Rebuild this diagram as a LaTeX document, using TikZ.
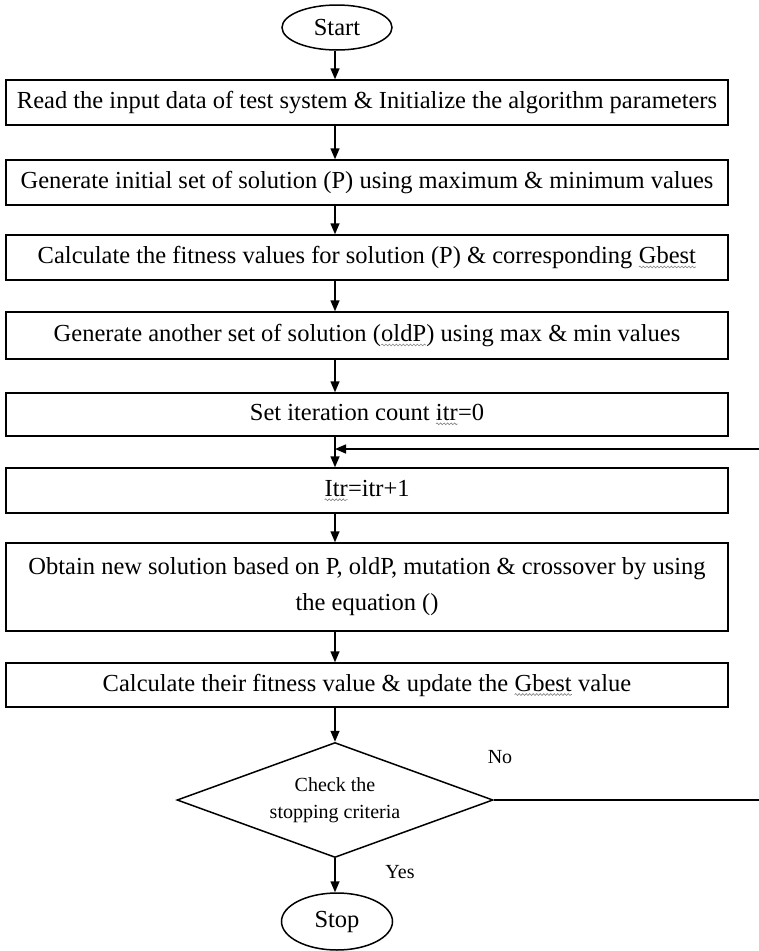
\documentclass[tikz,border=0pt]{standalone}
\usepackage{fontspec}
\setmainfont{Liberation Serif}
\usetikzlibrary{shapes.geometric,arrows.meta,decorations.pathmorphing}
\newcommand\sqw[1]{\tikz[baseline=(w.base)]{\node[rectangle,draw=none,fill=none,minimum width=0pt,minimum height=0pt,inner sep=0pt,outer sep=0pt] (w) {#1};\draw[gray,line width=0.6pt,decorate,decoration={snake,amplitude=0.9pt,segment length=3.5pt}] ([yshift=-3.5pt]w.base west) -- ([yshift=-3.5pt]w.base east);}}
\begin{document}
\begin{tikzpicture}[x=1pt,y=-1pt,
  box/.style={draw,line width=1.5pt,rectangle,minimum width=722pt,minimum height=45pt,inner sep=0pt,align=center,font=\fontsize{24.5}{36}\selectfont},
  term/.style={draw,line width=1.5pt,ellipse,inner sep=0pt,font=\fontsize{24.5}{28}\selectfont},
  dec/.style={draw,line width=1.5pt,diamond,aspect=2.75,minimum width=316pt,minimum height=115pt,inner sep=0pt,align=center,font=\fontsize{20}{27}\selectfont},
  lbl/.style={font=\fontsize{20}{24}\selectfont,inner sep=0pt},
  arr/.style={line width=1.5pt,-{Triangle[length=11pt,width=9pt]}},
  ln/.style={line width=1.5pt}]
\useasboundingbox (0,0) rectangle (759,951);
\coordinate (col) at (335,0);
\node[term,minimum width=110pt,minimum height=45pt] (start) at (337,27.5) {Start};
\node[box] (b1) at (367,102.5) {Read the input data of test system \& Initialize the algorithm parameters};
\node[box] (b2) at (367,182.5) {Generate initial set of solution (P) using maximum \& minimum values};
\node[box] (b3) at (367,257.5) {Calculate the fitness values for solution (P) \& corresponding \sqw{Gbest}};
\node[box,minimum height=47pt] (b4) at (367,335.5) {Generate another set of solution (\sqw{oldP}) using max \& min values};
\node[box,minimum height=43pt] (b5) at (367,414.5) {Set iteration count \sqw{itr}=0};
\node[box] (b6) at (367,490.5) {\sqw{Itr}=itr+1};
\node[box,minimum height=88pt] (b7) at (367,587) {Obtain new solution based on P, oldP, mutation \& crossover by using\\the equation ()};
\node[box,minimum height=44pt] (b8) at (367,685) {Calculate their fitness value \& update the \sqw{Gbest} value};
\node[dec] (d) at (335,800) {Check the\\stopping criteria};
\node[term,minimum width=111pt,minimum height=57pt] (stop) at (337,921.5) {Stop};
\node[lbl] (no) at (500,757) {No};
\node[lbl] (yes) at (400,872) {Yes};
\coordinate (rb) at (766,800);
\coordinate (rt) at (766,449);
\draw[arr] (start.south -| col) -- (b1.north -| col);
\draw[arr] (b1.south -| col) -- (b2.north -| col);
\draw[arr] (b2.south -| col) -- (b3.north -| col);
\draw[arr] (b3.south -| col) -- (b4.north -| col);
\draw[arr] (b4.south -| col) -- (b5.north -| col);
\draw[arr] (b5.south -| col) -- (b6.north -| col);
\draw[arr] (b6.south -| col) -- (b7.north -| col);
\draw[arr] (b7.south -| col) -- (b8.north -| col);
\draw[arr] (b8.south -| col) -- (d.north);
\draw[arr] (d.south) -- (stop.north -| col);
\draw[ln] (d.east) -- (rb) -- (rt);
\draw[arr] (rt) -- (rt -| col);
\end{tikzpicture}
\end{document}
